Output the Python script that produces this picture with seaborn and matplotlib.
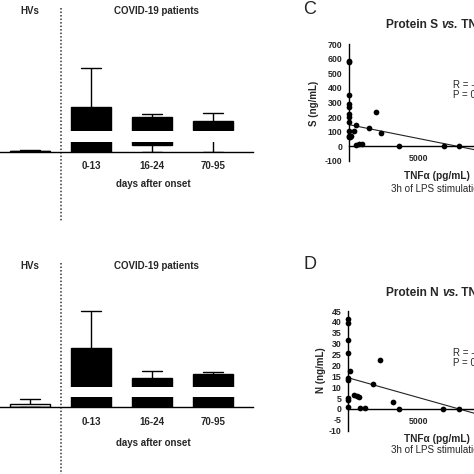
import numpy as np
import pandas as pd
import seaborn as sns
import matplotlib.pyplot as plt
import matplotlib.transforms as mtransforms

# ---- data ----
categories = ["HVs", "0-13", "16-24", "70-95"]
tick_labels = ["", "0-13", "16-24", "70-95"]
box_colors = {"HVs": "white", "0-13": "black", "16-24": "black", "70-95": "black"}

# panel A (protein S): min, q1, median, q3, max per group
s_min = [0, 0, 0, 0]
s_q1 = [0, 0, 13, 25]
s_med = [1, 60, 60, 50]
s_q3 = [2, 205, 132, 96]
s_max = [4, 515, 153, 163]

# panel B (protein N)
n_min = [0, 0, 0, 0]
n_q1 = [0, 0, 0, 0]
n_med = [0, 8, 5, 6]
n_q3 = [1.6, 23, 9.2, 10.7]
n_max = [3.9, 39.9, 12.4, 11.8]

# panel C: protein S vs TNFa
tnf_s = [0, 0, 0, 0, 0, 0, 0, 0, 0, 0, 0, 60, 140, 340, 510, 500, 680, 890,
         1410, 1930, 2290, 3530, 6760, 7860]
prot_s = [585, 575, 352, 290, 270, 220, 200, 165, 105, 70, 62, 65, 72, 106,
          146, 8, 17, 19, 129, 236, 90, 0, 0, 0]
fit_s = (148, -0.019)  # intercept, slope

# panel D: protein N vs TNFa
tnf_n = [0, 0, 0, 0, 0, 0, 0, 0, 0, 120, 410, 640, 760, 860, 1190, 1740,
         2260, 3210, 3600, 6780, 7920]
prot_n = [41.3, 39.5, 31.9, 25.7, 14.3, 13.2, 5.0, 4.2, 1.1, 17.6, 6.2, 5.9,
          5.6, 0.6, 0.6, 11.5, 22.6, 3.1, 0, 0, 0]
fit_n = (14.3, -0.00181)

sns.set_theme(style="white")
plt.rcParams["font.family"] = ["Liberation Sans", "DejaVu Sans"]
plt.rcParams["axes.unicode_minus"] = False

W = H = 474
fig = plt.figure(figsize=(4.74, 4.74), dpi=100)


def px_axes(x0, y0, x1, y1):
    return fig.add_axes([x0 / W, 1 - y1 / H, (x1 - x0) / W, (y1 - y0) / H])


def fx(x):
    return x / W


def fy(y):
    return 1 - y / H


def box_frame(mins, q1s, meds, q3s, maxs):
    rows = []
    for i, c in enumerate(categories):
        for v in (mins[i], q1s[i], meds[i], q3s[i], maxs[i]):
            rows.append((c, v))
    return pd.DataFrame(rows, columns=["group", "value"])


def box_panel(df, y_base, y_low_top, y_up_bot, y_up_top, low_lim, up_lim, y_head, y_xlabel, y_dot_end):
    xlim = (-0.82, 3.656)
    ax_lo = px_axes(-20, y_low_top, 253, y_base)
    ax_up = px_axes(-20, y_up_top, 253, y_up_bot)
    for ax in (ax_lo, ax_up):
        sns.boxplot(data=df, x="group", y="value", hue="group", order=categories,
                    hue_order=categories, palette=box_colors, dodge=False, legend=False,
                    width=0.656, whis=(0, 100), linecolor="black", linewidth=1.0,
                    saturation=1, fliersize=0, ax=ax)
        ax.set_xlim(*xlim)
        ax.set_xlabel("")
        ax.set_ylabel("")
        ax.set_yticks([])
        ax.set_facecolor("none")
    ax_lo.set_ylim(*low_lim)
    ax_up.set_ylim(*up_lim)
    sns.despine(ax=ax_lo, left=True)
    sns.despine(ax=ax_up, left=True, bottom=True)
    ax_lo.spines["bottom"].set_linewidth(1.0)
    ax_lo.spines["bottom"].set_color("black")
    ax_up.set_xticks([])
    ax_lo.set_xticks(range(len(categories)))
    ax_lo.set_xticklabels(tick_labels, fontsize=7, fontweight="bold")
    ax_lo.tick_params(axis="x", length=0, pad=7)

    tr = mtransforms.blended_transform_factory(ax_lo.transData, fig.transFigure)
    ax_lo.plot([0.5, 0.5], [fy(y_head - 3), fy(y_dot_end)], transform=tr, color="#333333",
               lw=1.1, linestyle=(0, (1, 1.3)), clip_on=False)
    ax_lo.text(0, fy(y_head), "HVs", transform=tr, ha="center", va="center",
               fontsize=7, fontweight="bold")
    ax_lo.text(2.08, fy(y_head), "COVID-19 patients", transform=tr, ha="center",
               va="center", fontsize=7, fontweight="bold")
    ax_lo.text(2.02, fy(y_xlabel), "days after onset", transform=tr, ha="center",
               va="center", fontsize=7, fontweight="bold")


box_panel(box_frame(s_min, s_q1, s_med, s_q3, s_max), 151.7, 141.7, 131, 44,
          (0, 20), (20, 700), 11, 184, 222)
box_panel(box_frame(n_min, n_q1, n_med, n_q3, n_max), 407.3, 396.7, 386.7, 300,
          (0, 5), (5, 45), 266, 443, 474)


def rich_title(x, y, parts, size):
    renderer = fig.canvas.get_renderer()
    for s, style in parts:
        t = fig.text(x, y, s, fontsize=size, fontweight="bold", fontstyle=style,
                     ha="left", va="center")
        x += t.get_window_extent(renderer).width / W


def scatter_panel(tnf, prot, fit, x_axis, y_top, y_bot, ylim, yticks, px_per_5000,
                  letter, y_letter, prot_name, y_title, y_r, ylab_xy, y_xlab, y_sub):
    width = px_per_5000 * 2
    ax = px_axes(x_axis, y_top, x_axis + width, y_bot)
    ax.set_facecolor("none")
    sns.scatterplot(x=tnf, y=prot, color="black", s=17, linewidth=0, clip_on=False,
                    zorder=3, ax=ax)
    xs = np.array([0, 10000])
    sns.lineplot(x=xs, y=fit[0] + fit[1] * xs, color="#222222", lw=0.8, ax=ax)
    ax.set_xlim(0, 10000)
    ax.set_ylim(*ylim)
    ax.set_yticks(yticks)
    ax.set_xticks([5000])
    ax.spines["bottom"].set_position(("data", 0))
    sns.despine(ax=ax)
    for sp in ("left", "bottom"):
        ax.spines[sp].set_linewidth(1.0)
        ax.spines[sp].set_color("black")
    ax.tick_params(axis="both", direction="out", length=3.6, width=1.0, color="black",
                   labelsize=6.3, pad=1.5)
    ax.tick_params(axis="x", pad=2)
    for lab in ax.get_xticklabels() + ax.get_yticklabels():
        lab.set_fontweight("bold")
    ax.set_xlabel("")
    ax.set_ylabel("")

    fig.text(fx(310), fy(y_letter), letter, fontsize=13, ha="center", va="center")
    rich_title(fx(386), fy(y_title),
               [("Protein " + prot_name + " ", "normal"), ("vs.", "italic"), (" TNFα", "normal")], 8.6)
    fig.text(fx(453), fy(y_r), "R = -0.37", fontsize=7, ha="left", va="center")
    fig.text(fx(453), fy(y_r + 10), "P = 0.03", fontsize=7, ha="left", va="center")
    fig.text(fx(ylab_xy[0]), fy(ylab_xy[1]), prot_name + " (ng/mL)", rotation=90,
             fontsize=7, fontweight="bold", ha="center", va="center")
    fig.text(fx(403.7), fy(y_xlab), "TNFα (pg/mL)", fontsize=7.3, fontweight="bold",
             ha="left", va="center")
    fig.text(fx(391.3), fy(y_sub), "3h of LPS stimulation", fontsize=7.1,
             ha="left", va="center")


scatter_panel(tnf_s, prot_s, fit_s, 349.3, 44, 161, (-100, 700), range(-100, 701, 100),
              69.7, "C", 10, "S", 25, 85, (314, 103), 176, 189)
scatter_panel(tnf_n, prot_n, fit_n, 348.3, 311, 430.7, (-10, 45), range(-10, 46, 5),
              70, "D", 264.7, "N", 292.7, 352.7, (321, 370), 439.5, 450.3)

fig.savefig("out.png", dpi=100)
